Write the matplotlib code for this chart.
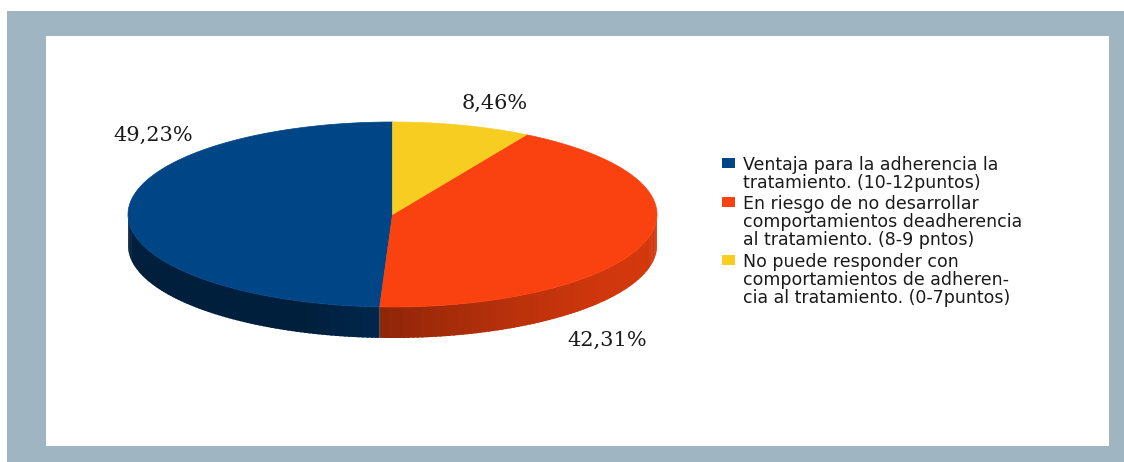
import numpy as np
import matplotlib.pyplot as plt
from matplotlib.patches import Polygon, Rectangle
from matplotlib.colors import to_rgb

# data
values = [49.23, 42.31, 8.46]
colors = ["#004586", "#f9420f", "#f8cd21"]
legend_labels = [
    "Ventaja para la adherencia la\ntratamiento. (10-12puntos)",
    "En riesgo de no desarrollar\ncomportamientos deadherencia\nal tratamiento. (8-9 pntos)",
    "No puede responder con\ncomportamientos de adheren-\ncia al tratamiento. (0-7puntos)",
]
pct_labels = [f"{v:.2f}".replace(".", ",") + "%" for v in values]

W, H = 1124, 462
fig = plt.figure(figsize=(W / 100, H / 100), dpi=100)
ax = fig.add_axes([0, 0, 1, 1])
ax.set_xlim(0, W)
ax.set_ylim(H, 0)
ax.axis("off")

# frame
ax.add_patch(Rectangle((7, 11), W - 7, H - 11, facecolor="#9fb5c2", edgecolor="none"))
ax.add_patch(Rectangle((46, 36), 1109 - 46, 446 - 36, facecolor="white", edgecolor="none"))

# 3d pie geometry (pixel units)
cx, cy, a, b, depth = 392.5, 214.5, 264.5, 92.5, 31


def pt(th, dy=0):
    t = np.radians(th)
    return cx + a * np.cos(t), cy - b * np.sin(t) + dy


def shade(c, th):
    k = 0.45 + 0.4 * max(0.0, np.cos(np.radians(th - 340)))
    r, g, bb = to_rgb(c)
    return (r * k, g * k, bb * k)


total = sum(values)
starts = 90 + 360 * np.concatenate([[0], np.cumsum(values)[:-1]]) / total
ends = starts + 360 * np.array(values) / total

# side walls (front half only), drawn as thin shaded strips
for s, e, c in zip(starts, ends, colors):
    for off in (0, 360):
        lo, hi = max(s, 180 + off), min(e, 360 + off)
        if hi <= lo:
            continue
        edges = np.linspace(lo, hi, int(np.ceil(hi - lo)) + 1)
        for t0, t1 in zip(edges[:-1], edges[1:]):
            t1x = min(t1 + 0.6, hi)
            ths = np.linspace(t0, t1x, 4)
            top = [pt(t) for t in ths]
            bot = [pt(t, depth) for t in ths[::-1]]
            ax.add_patch(Polygon(top + bot, closed=True,
                                 facecolor=shade(c, (t0 + t1) / 2), edgecolor="none"))

# top faces
for s, e, c in zip(starts, ends, colors):
    ths = np.linspace(s, e, 200)
    verts = [(cx, cy)] + [pt(t) for t in ths]
    ax.add_patch(Polygon(verts, closed=True, facecolor=c, edgecolor=c, lw=0.5))

# percentage labels
label_pos = [(153, 135), (607, 340), (495, 103)]
for (x, y), txt in zip(label_pos, pct_labels):
    ax.text(x, y, txt, ha="center", va="center", fontsize=15,
            family="DejaVu Serif", color="#1a1a1a")

# legend
first_baselines = [170, 209, 267]
line_step = 17.8
for base, c, lab in zip(first_baselines, colors, legend_labels):
    ax.add_patch(Rectangle((722, base - 12), 13, 10, facecolor=c, edgecolor="none"))
    for i, line in enumerate(lab.split("\n")):
        ax.text(743, base + i * line_step, line, ha="left", va="baseline", fontsize=12.5,
                family="DejaVu Sans", color="#1a1a1a")

fig.savefig("out.png", dpi=100)
